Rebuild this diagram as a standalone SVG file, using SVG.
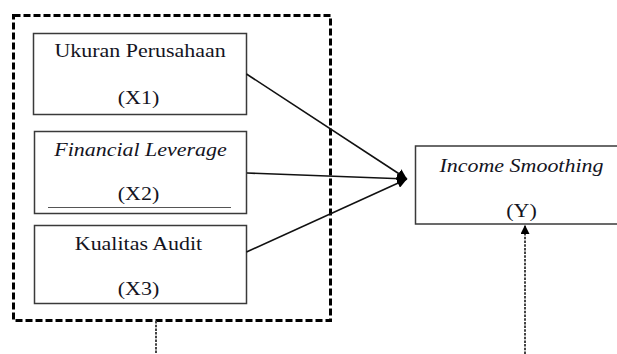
<svg xmlns="http://www.w3.org/2000/svg" width="617" height="354" viewBox="0 0 617 354">
  <style>
    .box { fill: #fff; stroke: #3a3a3a; stroke-width: 1.5; }
    .t { font-family: 'Liberation Serif', 'Times New Roman', serif; font-size: 18px; fill: #14141e; text-anchor: middle; }
    .i { font-style: italic; }
    .conn { stroke: #111; stroke-width: 1.6; fill: none; }
    .dash { stroke: #444; stroke-width: 2; stroke-dasharray: 2.5 1.2; fill: none; }
  </style>
  <defs>
    <marker id="ah" viewBox="0 0 10 10" refX="10" refY="5" markerWidth="10" markerHeight="10" markerUnits="userSpaceOnUse" orient="auto">
      <path d="M0,0 L10,5 L0,10 Z" fill="#000"/>
    </marker>
    <marker id="ah2" viewBox="0 0 10 10" refX="10" refY="5" markerWidth="9" markerHeight="9" markerUnits="userSpaceOnUse" orient="auto">
      <path d="M0,0 L10,5 L0,10 Z" fill="#000"/>
    </marker>
  </defs>

  <g id="group-x">
    <rect x="13.5" y="15.5" width="317" height="305" fill="none" stroke="#000" stroke-width="3" stroke-dasharray="7 3"/>
  </g>

  <g id="x1">
    <rect class="box" x="33.5" y="33.5" width="213" height="81"/>
    <text class="t" transform="translate(140 57) scale(1.22 1)">Ukuran Perusahaan</text>
    <text class="t" transform="translate(138.5 104) scale(1.22 1)">(X1)</text>
  </g>

  <g id="x2">
    <rect class="box" x="34.5" y="131.5" width="212" height="82"/>
    <text class="t i" transform="translate(140.5 156) scale(1.22 1)">Financial Leverage</text>
    <text class="t" transform="translate(138.5 200) scale(1.22 1)">(X2)</text>
    <line x1="48" y1="207.5" x2="231" y2="207.5" stroke="#555" stroke-width="1"/>
  </g>

  <g id="x3">
    <rect class="box" x="34.5" y="225.5" width="212" height="78"/>
    <text class="t" transform="translate(138.5 250) scale(1.22 1)">Kualitas Audit</text>
    <text class="t" transform="translate(138.5 295) scale(1.22 1)">(X3)</text>
  </g>

  <g id="y">
    <rect class="box" x="415.5" y="146" width="210" height="78"/>
    <text class="t i" transform="translate(521.5 172) scale(1.22 1)">Income Smoothing</text>
    <text class="t" transform="translate(521.5 217) scale(1.22 1)">(Y)</text>
  </g>

  <g id="connectors">
    <line class="conn" x1="246.5" y1="74" x2="407" y2="179" marker-end="url(#ah)"/>
    <line class="conn" x1="247" y1="173" x2="407" y2="179" marker-end="url(#ah)"/>
    <line class="conn" x1="246.5" y1="252" x2="407" y2="179" marker-end="url(#ah)"/>
    <line class="dash" x1="525" y1="354" x2="525" y2="225" marker-end="url(#ah2)"/>
    <line class="dash" x1="156" y1="321" x2="156" y2="354"/>
  </g>
</svg>
